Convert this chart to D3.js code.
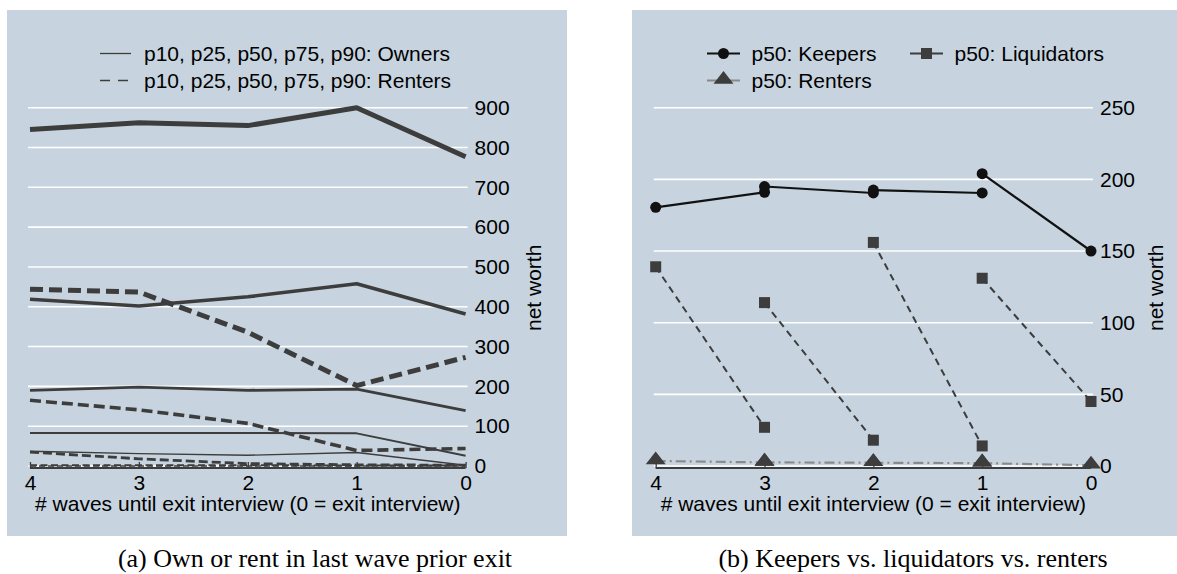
<!DOCTYPE html>
<html>
<head>
<meta charset="utf-8">
<script src="https://cdn.jsdelivr.net/npm/d3@7"></script>
<style>
  html, body { margin: 0; padding: 0; background: #ffffff; }
  svg { display: block; }
  text { font-family: "Liberation Sans", Arial, Helvetica, sans-serif; fill: #000; }
  .caption { font-family: "Liberation Serif", "Times New Roman", serif; }
</style>
</head>
<body>
<svg id="chart" width="1177" height="574"></svg>
<script>
// ---- data ---------------------------------------------------------------
// Panel (a): net worth percentiles by waves before exit interview
const waves = [4, 3, 2, 1, 0];
const ownersP10 = [37, 31, 27, 34, 2];
const ownersP25 = [83, 83, 83, 82, 26];
const ownersP50 = [190, 198, 190, 193, 139];
const ownersP75 = [419, 402, 425, 458, 382];
const ownersP90 = [845, 862, 855, 900, 777];
const rentersP10 = [0, 0, 0, 0, 0];
const rentersP25 = [2, 2, 2, 1, 1];
const rentersP50 = [35, 18, 6, 3, 2];
const rentersP75 = [165, 141, 107, 39, 44];
const rentersP90 = [444, 437, 336, 202, 273];
const leftTicks = [0, 100, 200, 300, 400, 500, 600, 700, 800, 900];

// Panel (b): medians, each cohort observed at a wave and the following wave
const pairFrom = [4, 3, 2, 1];
const pairTo = [3, 2, 1, 0];
const keepersFrom = [180.5, 195, 192.5, 204];
const keepersTo = [191, 190.5, 190.5, 150];
const liquidatorsFrom = [139, 114, 156, 131];
const liquidatorsTo = [27, 18, 14, 45];
const rentersFrom = [3.5, 2.5, 2.3, 2];
const rentersTo = [2.5, 2.3, 2, 0.5];
const rightTicks = [0, 50, 100, 150, 200, 250];

const xLabel = "# waves until exit interview (0 = exit interview)";
const yLabel = "net worth";

// ---- styling ------------------------------------------------------------
const BG = "#c7d4df";
const INK = "#3d3d3d";
const FONT = 21;

const svg = d3.select("#chart");

function panel(opts) {
  const g = svg.append("g");
  g.append("rect")
    .attr("x", opts.bg[0]).attr("y", opts.bg[1])
    .attr("width", opts.bg[2]).attr("height", opts.bg[3])
    .attr("fill", BG);

  const x = d3.scaleLinear().domain([4, 0]).range(opts.xr);
  const y = d3.scaleLinear().domain(opts.yd).range([466, 107.7]);

  // horizontal grid
  g.append("g").selectAll("line").data(opts.ticks).join("line")
    .attr("x1", opts.xr[0] - 2).attr("x2", opts.xr[1] + 2)
    .attr("y1", d => y(d)).attr("y2", d => y(d))
    .attr("stroke", "#ffffff").attr("stroke-width", 1.6);

  // y axis labels on the right
  const yAxis = d3.axisRight(y).tickValues(opts.ticks).tickSize(0).tickPadding(0);
  const ya = g.append("g").attr("transform", `translate(${opts.xr[1] + 9},0)`).call(yAxis);
  ya.select(".domain").remove();
  ya.selectAll("text").attr("font-size", FONT).attr("fill", "#000")
    .style("font-family", "Liberation Sans, Arial, sans-serif");

  g.append("text")
    .attr("transform", `translate(${opts.ylabX},${y((opts.yd[0] + opts.yd[1]) / 2) + 1}) rotate(-90)`)
    .attr("text-anchor", "middle").attr("dominant-baseline", "central")
    .attr("font-size", FONT).text(yLabel);

  // x axis
  const xAxis = d3.axisBottom(x).tickValues(waves).tickSize(6).tickPadding(4)
    .tickFormat(d3.format("d"));
  const xa = g.append("g").attr("transform", "translate(0,468)").call(xAxis);
  xa.select(".domain").attr("stroke", INK).attr("stroke-width", 2)
    .attr("d", `M${opts.xr[0]},0H${opts.xr[1]}`);
  xa.selectAll(".tick line").attr("stroke", INK).attr("stroke-width", 1.3)
    .attr("y1", -6).attr("y2", 0);
  xa.selectAll(".tick text").attr("font-size", FONT).attr("fill", "#000")
    .attr("y", 7).style("font-family", "Liberation Sans, Arial, sans-serif");

  g.append("text")
    .attr("x", (opts.xr[0] + opts.xr[1]) / 2).attr("y", 511)
    .attr("text-anchor", "middle").attr("font-size", FONT).text(xLabel);

  return { g, x, y };
}

// ================= panel (a) =================
const A = panel({ bg: [7, 10, 560, 526], xr: [30, 465.6], yd: [0, 900], ticks: leftTicks, ylabX: 533 });
{
  const line = d3.line().x((d, i) => A.x(waves[i])).y(d => A.y(d));
  const series = [
    { v: ownersP10, w: 1.4, dash: null },
    { v: ownersP25, w: 2.0, dash: null },
    { v: ownersP50, w: 2.8, dash: null },
    { v: ownersP75, w: 3.6, dash: null },
    { v: ownersP90, w: 5.0, dash: null },
    { v: rentersP10, w: 1.4, dash: "6,3" },
    { v: rentersP25, w: 2.0, dash: "7,3.5" },
    { v: rentersP50, w: 2.8, dash: "9,4" },
    { v: rentersP75, w: 3.6, dash: "11,5" },
    { v: rentersP90, w: 5.0, dash: "13,6" }
  ];
  A.g.append("g").selectAll("path").data(series).join("path")
    .attr("d", d => line(d.v))
    .attr("fill", "none").attr("stroke", INK)
    .attr("stroke-width", d => d.w)
    .attr("stroke-linejoin", "round")
    .attr("stroke-dasharray", d => d.dash);

  // legend
  const lg = A.g.append("g");
  const rows = [
    { label: "p10, p25, p50, p75, p90: Owners", dash: null, y: 53.5 },
    { label: "p10, p25, p50, p75, p90: Renters", dash: "10,8", y: 80.5 }
  ];
  rows.forEach(r => {
    lg.append("line").attr("x1", 100).attr("x2", 131).attr("y1", r.y).attr("y2", r.y)
      .attr("stroke", INK).attr("stroke-width", 1.3).attr("stroke-dasharray", r.dash);
    lg.append("text").attr("x", 144).attr("y", r.y).attr("dominant-baseline", "central")
      .attr("font-size", FONT).text(r.label);
  });
}

// ================= panel (b) =================
const B = panel({ bg: [632, 10, 545, 526], xr: [655.7, 1091], yd: [0, 250], ticks: rightTicks, ylabX: 1155.5 });
{
  const mk = (from, to) => pairFrom.map((w, i) => ({ x1: w, y1: from[i], x2: pairTo[i], y2: to[i] }));
  const keepers = mk(keepersFrom, keepersTo);
  const liquidators = mk(liquidatorsFrom, liquidatorsTo);
  const renters = mk(rentersFrom, rentersTo);
  const X = B.x, Y = B.y;

  const tri = d3.symbol().type(d3.symbolTriangle).size(95);

  function segs(data, stroke, width, dash) {
    B.g.append("g").selectAll("line").data(data).join("line")
      .attr("x1", d => X(d.x1)).attr("y1", d => Y(d.y1))
      .attr("x2", d => X(d.x2)).attr("y2", d => Y(d.y2))
      .attr("stroke", stroke).attr("stroke-width", width)
      .attr("stroke-dasharray", dash);
  }
  const pts = data => data.flatMap(d => [{ x: d.x1, y: d.y1 }, { x: d.x2, y: d.y2 }]);

  // renters: grey dash-dot with triangles
  segs(renters, "#8a8a8a", 2.2, "10,4,2,4");
  B.g.append("g").selectAll("path").data(pts(renters)).join("path")
    .attr("d", tri).attr("transform", d => `translate(${X(d.x)},${Y(d.y) - 1}) scale(1.35,1)`)
    .attr("fill", INK);

  // liquidators: dashed with squares
  segs(liquidators, INK, 2, "7,5");
  B.g.append("g").selectAll("rect").data(pts(liquidators)).join("rect")
    .attr("x", d => X(d.x) - 5.5).attr("y", d => Y(d.y) - 5.5)
    .attr("width", 11).attr("height", 11).attr("fill", INK);

  // keepers: solid black with circles
  segs(keepers, "#111111", 2.2, null);
  B.g.append("g").selectAll("circle").data(pts(keepers)).join("circle")
    .attr("cx", d => X(d.x)).attr("cy", d => Y(d.y)).attr("r", 5.5).attr("fill", "#111111");

  // legend
  const lg = B.g.append("g");
  function item(x0, yc, label, kind) {
    const col = kind === "k" ? "#111111" : kind === "l" ? INK : "#8a8a8a";
    lg.append("line").attr("x1", x0).attr("x2", x0 + 33).attr("y1", yc).attr("y2", yc)
      .attr("stroke", col).attr("stroke-width", 2.2);
    const cx = x0 + 16.5;
    if (kind === "k") lg.append("circle").attr("cx", cx).attr("cy", yc).attr("r", 5.5).attr("fill", "#111111");
    if (kind === "l") lg.append("rect").attr("x", cx - 5.5).attr("y", yc - 5.5).attr("width", 11).attr("height", 11).attr("fill", INK);
    if (kind === "r") lg.append("path").attr("d", tri).attr("transform", `translate(${cx},${yc - 1}) scale(1.35,1)`).attr("fill", INK);
    lg.append("text").attr("x", x0 + 44.5).attr("y", yc).attr("dominant-baseline", "central")
      .attr("font-size", FONT).text(label);
  }
  item(707, 53.5, "p50: Keepers", "k");
  item(910, 53.5, "p50: Liquidators", "l");
  item(707, 80.5, "p50: Renters", "r");
}

// ---- captions ----
svg.append("text").attr("class", "caption").attr("x", 315).attr("y", 567)
  .attr("text-anchor", "middle").attr("font-size", 26)
  .style("font-family", "Liberation Serif, Times New Roman, serif")
  .text("(a) Own or rent in last wave prior exit");
svg.append("text").attr("class", "caption").attr("x", 913).attr("y", 567)
  .attr("text-anchor", "middle").attr("font-size", 26)
  .style("font-family", "Liberation Serif, Times New Roman, serif")
  .text("(b) Keepers vs. liquidators vs. renters");
</script>
</body>
</html>
